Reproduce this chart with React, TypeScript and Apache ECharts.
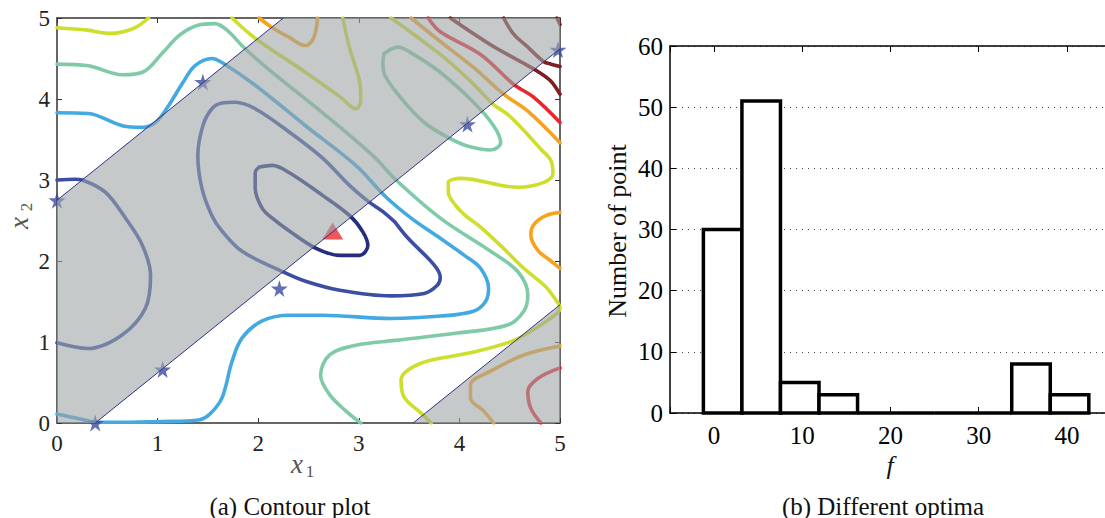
import React, { useEffect, useRef } from "react";
import * as echarts from "echarts";

const FONT = "'Liberation Serif', serif";

// ---------- Contour plot data (x1, x2) ----------
const level1Inner = [[2.01,3.16],[2.14,3.18],[2.31,3.09],[2.64,2.81],[2.91,2.56],[3.04,2.36],[3.09,2.19],[3.01,2.07],[2.81,2.07],[2.57,2.16],[2.31,2.37],[2.14,2.53],[2.04,2.65],[1.97,2.9],[1.97,3.09],[2.01,3.16]];
const level2Loop = [[3.36,2.48],[3.49,2.28],[3.75,1.95],[3.81,1.8],[3.78,1.7],[3.65,1.6],[3.32,1.57],[2.81,1.64],[2.47,1.75],[2.24,1.87],[1.84,2.12],[1.64,2.37],[1.54,2.56],[1.44,2.9],[1.4,3.3],[1.45,3.67],[1.54,3.88],[1.64,3.95],[1.77,3.96],[1.97,3.88],[2.31,3.59],[2.64,3.27],[2.91,2.93],[3.09,2.74],[3.24,2.61],[3.36,2.48]];
const level2Left = [[0,3.0],[0.18,3.01],[0.25,3.0],[0.48,2.85],[0.68,2.53],[0.85,2.19],[0.93,1.82],[0.88,1.42],[0.65,1.09],[0.31,0.92],[0,0.99]];
const level3 = [[0,3.83],[0.31,3.82],[0.65,3.67],[0.85,3.65],[0.98,3.71],[1.11,3.92],[1.25,4.2],[1.37,4.41],[1.54,4.5],[1.64,4.45],[1.97,4.17],[2.47,3.67],[2.97,3.18],[3.27,2.79],[3.52,2.53],[3.81,2.28],[4.05,2.07],[4.21,1.91],[4.29,1.66],[4.26,1.5],[4.14,1.38],[3.81,1.32],[3.32,1.29],[2.64,1.33],[2.31,1.33],[2.04,1.26],[1.84,1.05],[1.74,0.76],[1.64,0.31],[1.52,0.11],[1.42,0.04],[1.15,0.02],[0.73,0.01],[0.43,0.01],[0.23,0.05],[0,0.11]];
const level4 = [[0,4.43],[0.31,4.41],[0.65,4.3],[0.85,4.33],[1.05,4.57],[1.21,4.78],[1.4,4.91],[1.57,4.93],[1.69,4.85],[1.87,4.62],[2.14,4.33],[2.64,3.83],[3.14,3.3],[3.37,3.0],[3.81,2.53],[4.31,2.12],[4.58,1.87],[4.68,1.58],[4.64,1.38],[4.48,1.21],[3.98,1.11],[3.36,1.02],[2.97,0.96],[2.71,0.84],[2.62,0.59],[2.71,0.35],[2.87,0.15],[3.02,0]];
const level4Loop = [[3.25,4.56],[3.39,4.64],[3.52,4.57],[3.81,4.33],[4.14,3.96],[4.34,3.67],[4.41,3.46],[4.31,3.37],[4.08,3.42],[3.91,3.51],[3.65,3.71],[3.42,4.01],[3.26,4.29],[3.24,4.45],[3.25,4.56]];
const level5Left = [[0,4.88],[0.3,4.85],[0.53,4.81],[0.76,4.87],[0.91,5.0]];
const level5V = [[1.74,5.0],[1.97,4.75],[2.47,4.33],[2.82,4.02],[2.97,3.88],[3.02,3.98],[3.01,4.2],[2.91,4.62],[2.84,5.0]];
const level5Right = [[3.32,5.0],[3.81,4.55],[4.11,4.22],[4.34,3.93],[4.48,3.81],[4.68,3.56],[4.81,3.38],[4.91,3.24],[4.93,3.08],[4.84,2.97],[4.58,2.91],[4.01,3.02],[3.89,2.97],[3.89,2.85],[3.96,2.69],[4.06,2.56],[4.19,2.44],[4.41,2.19],[4.64,1.91],[4.86,1.68],[4.98,1.48],[5.0,1.42],[4.88,1.27],[4.54,1.02],[4.08,0.86],[3.62,0.74],[3.42,0.53],[3.45,0.32],[3.62,0.12],[3.72,0]];
const level6Top = [[2.01,5.0],[2.14,4.88],[2.31,4.76],[2.47,4.66],[2.55,4.75],[2.59,5.0]];
const level6Right = [[3.52,5.0],[3.81,4.71],[4.14,4.39],[4.44,4.06],[4.68,3.85],[5.0,3.46]];
const level6Mid = [[5.0,2.6],[4.86,2.56],[4.74,2.45],[4.71,2.32],[4.78,2.13],[4.91,2.0],[5.0,1.91]];
const level6Bottom = [[5.0,0.95],[4.64,0.84],[4.31,0.64],[4.11,0.47],[4.11,0.31],[4.24,0.15],[4.34,0]];
const level7Right = [[3.69,5.0],[3.81,4.83],[4.21,4.55],[4.54,4.18],[4.74,4.02],[5.0,3.71]];
const level7Bottom = [[5.0,0.68],[4.78,0.55],[4.68,0.39],[4.71,0.18],[4.81,0]];
const level8A = [[3.91,5.0],[4.31,4.67],[4.61,4.46],[4.78,4.34],[4.91,4.22],[5.0,4.06]];
const level8B = [[4.44,5.0],[4.54,4.8],[4.68,4.64],[4.84,4.46],[4.91,4.43],[5.0,4.4]];
const level8C = [[4.97,5.0],[5.0,4.92]];

const levelColors = ["#252d80", "#3b4ea4", "#42a9e1", "#7fcba8", "#cfdd2b", "#f7a21d", "#e8262b", "#7f1d1f"];

const bandA = [[0,0],[0.38,0],[5,4.62],[5,5],[2.25,5],[0,2.75]];
const bandB = [[3.54,0],[5,0],[5,1.46]];
const bandEdges = [[[0,2.75],[2.25,5]], [[0.38,0],[5,4.62]], [[3.54,0],[5,1.46]]];

const samplePoints = [[0,2.75],[1.45,4.21],[0.38,0],[1.05,0.66],[2.21,1.66],[4.08,3.69],[4.98,4.61]];
const bestPoint = [[2.74,2.37]];

// ---------- Histogram data ----------
const binCenters = [0.97, 5.34, 9.71, 14.08, 18.45, 22.82, 27.19, 31.56, 35.93, 40.3];
const binCounts = [30, 51, 5, 3, 0, 0, 0, 0, 8, 3];
const binWidth = 4.37;

const STAR = "path://M50,0 L61,35 L98,35 L68,57 L79,91 L50,70 L21,91 L32,57 L2,35 L39,35 Z";

export default function App() {
  const ref = useRef<HTMLDivElement>(null);
  useEffect(() => {
    document.body.style.margin = "0";
    const chart = echarts.init(ref.current!, null, { renderer: "svg" });

    const contourSets: [number[][], number][] = [
      [level1Inner, 0], [level2Loop, 1], [level2Left, 1], [level3, 2], [level4, 3], [level4Loop, 3],
      [level5Left, 4], [level5V, 4], [level5Right, 4], [level6Top, 5], [level6Right, 5], [level6Mid, 5],
      [level6Bottom, 5], [level7Right, 6], [level7Bottom, 6], [level8A, 7], [level8B, 7], [level8C, 7],
    ];

    const axisLineL = { show: true, onZero: false, lineStyle: { color: "#333", width: 1.5 } };
    const tickL = { show: true, inside: true, length: 5, lineStyle: { color: "#333", width: 1 } };
    const axisLineR = { show: true, onZero: false, lineStyle: { color: "#000", width: 1.5 } };
    const tickR = { show: true, inside: true, length: 6, interval: 0, lineStyle: { color: "#000", width: 1 } };
    const labL = { fontFamily: FONT, fontSize: 23, color: "#222" };
    const labR = { fontFamily: FONT, fontSize: 25, color: "#000" };

    const series: any[] = [];
    contourSets.forEach(([pts, lv]) => {
      series.push({
        type: "line", xAxisIndex: 0, yAxisIndex: 0, data: pts, smooth: 0.35, showSymbol: false,
        symbol: "none", z: 2, silent: true,
        lineStyle: { color: levelColors[lv], width: 3.6, cap: "round", join: "round" },
      });
    });
    series.push({
      type: "scatter", xAxisIndex: 0, yAxisIndex: 0, data: samplePoints, symbol: STAR, symbolSize: 17,
      itemStyle: { color: "#3a4ca2" }, z: 3, silent: true,
    });
    series.push({
      type: "scatter", xAxisIndex: 0, yAxisIndex: 0, data: bestPoint, symbol: "triangle", symbolSize: [21, 17],
      itemStyle: { color: "#ee2a2b" }, z: 3, silent: true,
    });
    const regions = [bandA, bandB];
    series.push({
      type: "custom", xAxisIndex: 0, yAxisIndex: 0, z: 4, silent: true,
      data: regions.map((_, i) => [i, 0]),
      renderItem: (params: any, api: any) => ({
        type: "polygon",
        shape: { points: regions[params.dataIndex].map((p) => api.coord(p)) },
        style: { fill: "rgba(158,165,167,0.6)" },
      }),
    });
    bandEdges.forEach((e) => {
      series.push({
        type: "line", xAxisIndex: 0, yAxisIndex: 0, data: e, showSymbol: false, symbol: "none", z: 5, silent: true,
        lineStyle: { color: "#2e3180", width: 1 },
      });
    });
    series.push({
      type: "custom", xAxisIndex: 2, yAxisIndex: 2, z: 3, silent: true,
      data: binCenters.map((c, i) => [c, binCounts[i]]),
      renderItem: (params: any, api: any) => {
        const c = api.value(0), n = api.value(1);
        const p0 = api.coord([c - binWidth / 2, 0]);
        const p1 = api.coord([c + binWidth / 2, n]);
        if (n === 0) {
          return { type: "line", shape: { x1: p0[0], y1: p0[1], x2: p1[0], y2: p0[1] }, style: { stroke: "#000", lineWidth: 3.5 } };
        }
        return {
          type: "polygon",
          shape: { points: [[p0[0], p0[1]], [p0[0], p1[1]], [p1[0], p1[1]], [p1[0], p0[1]]] },
          style: { fill: "#fff", stroke: "#000", lineWidth: 3.5, lineJoin: "miter" },
        };
      },
    });

    const txt = (text: string, x: number, y: number, size: number, extra: any = {}, rotation = 0) => ({
      type: "text", x, y, rotation, silent: true,
      style: { text, fontSize: size, fontFamily: FONT, fill: "#111", align: "center", verticalAlign: "middle", ...extra },
    });

    chart.setOption({
      animation: false,
      backgroundColor: "#fff",
      grid: [
        { left: 57, top: 18, width: 503, height: 405, containLabel: false, outerBoundsMode: "none" },
        { left: 670, top: 46, width: 441, height: 367, containLabel: false, outerBoundsMode: "none" },
      ],
      xAxis: [
        { gridIndex: 0, type: "value", min: 0, max: 5, interval: 1, position: "bottom", axisLine: axisLineL, axisTick: tickL,
          axisLabel: { ...labL, margin: 9 }, splitLine: { show: false } },
        { gridIndex: 0, type: "value", min: 0, max: 5, interval: 1, position: "top", axisLine: axisLineL, axisTick: tickL,
          axisLabel: { show: false }, splitLine: { show: false } },
        { gridIndex: 1, type: "value", min: -5, max: 45, splitNumber: 5, position: "bottom", axisLine: axisLineR, axisTick: tickR,
          axisLabel: { ...labR, margin: 10, interval: 0, formatter: (v: number) => (v >= 0 && v <= 40 && v % 10 === 0 ? String(v) : "") },
          splitLine: { show: false } },
        { gridIndex: 1, type: "value", min: -5, max: 45, splitNumber: 5, position: "top", axisLine: axisLineR, axisTick: tickR,
          axisLabel: { show: false }, splitLine: { show: false } },
      ],
      yAxis: [
        { gridIndex: 0, type: "value", min: 0, max: 5, interval: 1, position: "left", axisLine: axisLineL, axisTick: tickL,
          axisLabel: { ...labL, margin: 7 }, splitLine: { show: false } },
        { gridIndex: 0, type: "value", min: 0, max: 5, interval: 1, position: "right", axisLine: axisLineL, axisTick: tickL,
          axisLabel: { show: false }, splitLine: { show: false } },
        { gridIndex: 1, type: "value", min: 0, max: 60, interval: 10, position: "left", axisLine: axisLineR, axisTick: tickR,
          axisLabel: { ...labR, margin: 7 },
          splitLine: { show: true, lineStyle: { color: "#444", width: 1, type: [1, 5] } } },
        { gridIndex: 1, type: "value", min: 0, max: 60, interval: 10, position: "right", axisLine: axisLineR, axisTick: tickR,
          axisLabel: { show: false }, splitLine: { show: false } },
      ],
      series,
      graphic: [
        txt("x", 297, 464, 27, { fontStyle: "italic", fill: "#555" }),
        txt("1", 310, 471, 17, { fill: "#555" }),
        txt("x", 19, 223, 27, { fontStyle: "italic", fill: "#555" }, Math.PI / 2),
        txt("2", 26, 207, 17, { fill: "#555" }, Math.PI / 2),
        txt("(a) Contour plot", 290, 506, 25),
        txt("f", 890, 465, 26, { fontStyle: "italic" }),
        txt("Number of point", 617, 231, 26, {}, Math.PI / 2),
        txt("(b) Different optima", 883, 506, 25),
      ],
    });
    return () => chart.dispose();
  }, []);
  return <div ref={ref} style={{ position: "fixed", left: 0, top: 0, width: 1105, height: 518 }} />;
}
